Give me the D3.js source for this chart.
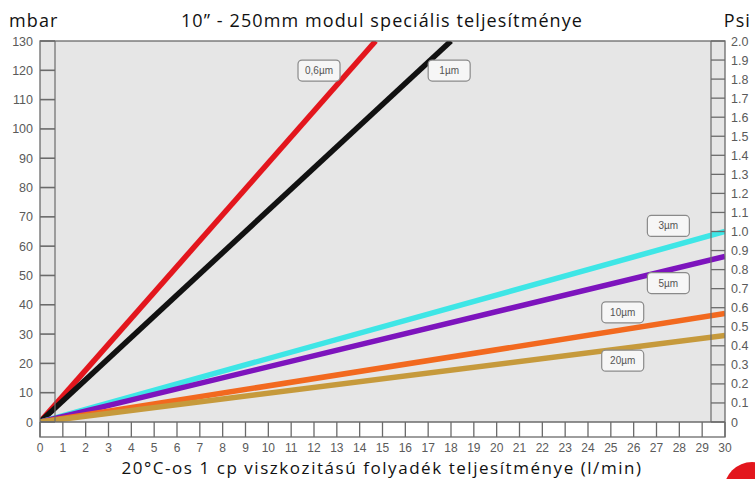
<!DOCTYPE html>
<html>
<head>
<meta charset="utf-8">
<script src="https://cdn.jsdelivr.net/npm/d3@7/dist/d3.min.js"></script>
<style>
  html, body { margin: 0; padding: 0; background: #fff; }
  svg { display: block; }
</style>
</head>
<body>
<svg id="chart" width="755" height="479"></svg>
<script>
// ---- Data ----
const title = "10\u201d - 250mm modul speciális teljesítménye";
const xTitle = "20°C-os 1 cp viszkozitású folyadék teljesítménye (l/min)";
const leftUnit = "mbar";
const rightUnit = "Psi";

const seriesNames = ["0,6µm", "1µm", "3µm", "5µm", "10µm", "20µm"];
const seriesColors = ["#e3161d", "#111111", "#3ee6e6", "#7d14bd", "#f2691f", "#c69a3c"];
// [flow l/min, pressure mbar] end points of each straight line (from origin)
const seriesEndFlow = [14.7, 18.0, 30, 30, 30, 30];
const seriesEndPressure = [130, 130, 65, 56.5, 37, 29.5];
// label box anchors (flow, pressure) – top-left of each label box
const labelFlow = [11.3, 17.0, 26.6, 26.6, 24.6, 24.6];
const labelPressure = [123.5, 123.5, 70.5, 51, 41, 24.5];

const xTicks = d3.range(0, 31, 1);
const yTicks = d3.range(0, 131, 10);
const psiTicks = d3.range(0, 21, 1).map(d => d / 10);

// ---- Layout ----
const svg = d3.select("#chart");
const X0 = 40, X1 = 725, Y0 = 422, Y1 = 41;
const x = d3.scaleLinear().domain([0, 30]).range([X0, X1]);
const y = d3.scaleLinear().domain([0, 130]).range([Y0, Y1]);
const yPsi = d3.scaleLinear().domain([0, 2]).range([Y0, Y1]);

const frame = "#6b6b6b";

// plot background
svg.append("rect").attr("x", X0).attr("y", Y1).attr("width", X1 - X0).attr("height", Y0 - Y1)
  .attr("fill", "#e6e6e6");
// bottom strip
svg.append("rect").attr("x", X0).attr("y", Y0).attr("width", X1 - X0).attr("height", 15)
  .attr("fill", "#ffffff");

// lines
svg.append("clipPath").attr("id", "plotclip").append("rect")
  .attr("x", X0).attr("y", Y1).attr("width", X1 - X0).attr("height", Y0 - Y1);
const lineGen = d3.line().x(d => x(d[0])).y(d => y(d[1]));
const gLines = svg.append("g").attr("clip-path", "url(#plotclip)");
seriesNames.forEach((n, i) => {
  gLines.append("path")
    .datum([[0, 0], [seriesEndFlow[i], seriesEndPressure[i]]])
    .attr("d", lineGen)
    .attr("fill", "none")
    .attr("stroke", seriesColors[i])
    .attr("stroke-width", 5.5)
    .attr("stroke-linecap", "butt");
});

// left strip: inner line + ticks
svg.append("line").attr("x1", 55).attr("x2", 55).attr("y1", Y1).attr("y2", Y0)
  .attr("stroke", frame).attr("stroke-width", 1.2);
svg.append("g").selectAll("line").data(yTicks).join("line")
  .attr("x1", X0).attr("x2", 55).attr("y1", d => y(d)).attr("y2", d => y(d))
  .attr("stroke", frame).attr("stroke-width", 1.6);

// right strip: inner line + ticks
svg.append("line").attr("x1", 711).attr("x2", 711).attr("y1", Y1).attr("y2", Y0)
  .attr("stroke", frame).attr("stroke-width", 1.2);
svg.append("g").selectAll("line").data(psiTicks).join("line")
  .attr("x1", 711).attr("x2", X1).attr("y1", d => yPsi(d)).attr("y2", d => yPsi(d))
  .attr("stroke", frame).attr("stroke-width", 1.3);

// bottom strip ticks
svg.append("g").selectAll("line").data(xTicks).join("line")
  .attr("x1", d => x(d)).attr("x2", d => x(d)).attr("y1", Y0).attr("y2", Y0 + 15)
  .attr("stroke", frame).attr("stroke-width", 1.3);

// frames
svg.append("rect").attr("x", X0).attr("y", Y1).attr("width", X1 - X0).attr("height", Y0 + 15 - Y1)
  .attr("fill", "none").attr("stroke", frame).attr("stroke-width", 1.3);
svg.append("line").attr("x1", X0).attr("x2", X1).attr("y1", Y0).attr("y2", Y0)
  .attr("stroke", frame).attr("stroke-width", 1.3);

// series label boxes
const gLab = svg.append("g");
seriesNames.forEach((n, i) => {
  const bx = x(labelFlow[i]), by = y(labelPressure[i]);
  const w = 42, h = 21;
  gLab.append("rect").attr("x", bx).attr("y", by).attr("width", w).attr("height", h)
    .attr("rx", 4).attr("fill", "#f6f6f6").attr("stroke", "#8a8a8a").attr("stroke-width", 1.2);
  gLab.append("text").attr("x", bx + w / 2).attr("y", by + h / 2 + 3.5)
    .attr("text-anchor", "middle").attr("font-family", "Liberation Sans, Arial, sans-serif")
    .attr("font-size", 10).attr("fill", "#555").text(n);
});

// tick labels
const tickFont = "Liberation Sans Narrow, Liberation Sans, Arial, sans-serif";
svg.append("g").selectAll("text").data(yTicks).join("text")
  .attr("x", 33).attr("y", d => y(d) + 4.5).attr("text-anchor", "end")
  .attr("font-family", tickFont).attr("font-size", 12.5).attr("fill", "#5a5a5a")
  .text(d => d);
svg.append("g").selectAll("text").data(psiTicks).join("text")
  .attr("x", 731).attr("y", d => yPsi(d) + 4.5).attr("text-anchor", "start")
  .attr("font-family", tickFont).attr("font-size", 12.5).attr("fill", "#5a5a5a")
  .text(d => d === 0 ? "0" : d.toFixed(1));
svg.append("g").selectAll("text").data(xTicks).join("text")
  .attr("x", d => x(d)).attr("y", 451.5).attr("text-anchor", "middle")
  .attr("font-family", tickFont).attr("font-size", 12).attr("fill", "#5a5a5a")
  .text(d => d);

// titles
const titleFont = "'Open Sans', sans-serif";
const ls = 1.1;
svg.append("text").attr("x", 9).attr("y", 27).attr("font-family", titleFont).attr("letter-spacing", ls)
  .attr("font-size", 18).attr("fill", "#111").text(leftUnit);
svg.append("text").attr("x", 382).attr("y", 27).attr("text-anchor", "middle").attr("font-family", titleFont)
  .attr("letter-spacing", ls).attr("font-size", 18).attr("fill", "#111").text(title);
svg.append("text").attr("x", 751).attr("y", 27).attr("text-anchor", "end").attr("font-family", titleFont)
  .attr("letter-spacing", ls).attr("font-size", 18).attr("fill", "#111").text(rightUnit);
svg.append("text").attr("x", 382).attr("y", 474).attr("text-anchor", "middle").attr("font-family", titleFont)
  .attr("letter-spacing", 1.55).attr("font-size", 17).attr("fill", "#111").text(xTitle);

// red corner logo fragment
svg.append("circle").attr("cx", 752).attr("cy", 490).attr("r", 28).attr("fill", "#e3161d");
</script>
</body>
</html>
